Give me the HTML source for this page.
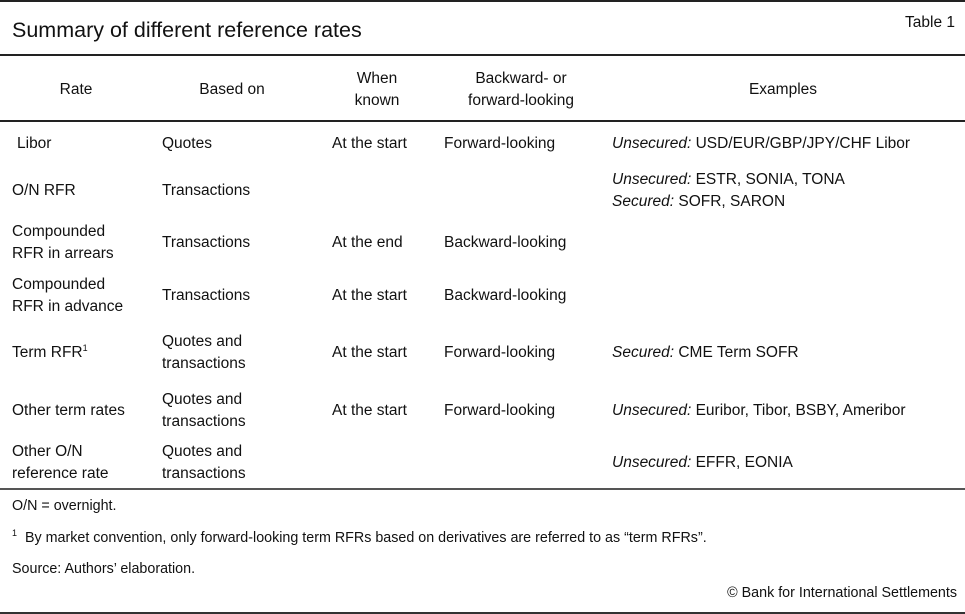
<!DOCTYPE html>
<html><head><style>
body{margin:0;width:965px;height:614px;background:#fff;position:relative;overflow:hidden;font-family:"Liberation Sans",sans-serif;color:#111}
.l{position:absolute;left:0;width:965px;background:#222}
.t{position:absolute;font-size:15.5px;line-height:22px;white-space:nowrap}
.c{text-align:center}
.f{position:absolute;font-size:14.3px;white-space:nowrap;left:12px}
i{font-style:italic}
sup{font-size:9px;line-height:0}
</style></head><body>
<div class="l" style="top:0;height:2px"></div>
<div class="t" style="left:12px;top:17px;font-size:21.5px;line-height:26px">Summary of different reference rates</div>
<div class="t" style="right:10px;top:12px;font-size:15.5px">Table 1</div>
<div class="l" style="top:54px;height:2px"></div>
<div class="t c" style="left:26px;width:100px;top:79px">Rate</div>
<div class="t c" style="left:182px;width:100px;top:79px">Based on</div>
<div class="t c" style="left:327px;width:100px;top:68px">When<br>known</div>
<div class="t c" style="left:441px;width:160px;top:68px">Backward- or<br>forward-looking</div>
<div class="t c" style="left:733px;width:100px;top:79px">Examples</div>
<div class="l" style="top:120px;height:2px"></div>

<div class="t" style="left:17px;top:133px">Libor</div>
<div class="t" style="left:162px;top:133px">Quotes</div>
<div class="t" style="left:332px;top:133px">At the start</div>
<div class="t" style="left:444px;top:133px">Forward-looking</div>
<div class="t" style="left:612px;top:133px"><i>Unsecured:</i> USD/EUR/GBP/JPY/CHF Libor</div>

<div class="t" style="left:12px;top:180px">O/N RFR</div>
<div class="t" style="left:162px;top:180px">Transactions</div>
<div class="t" style="left:612px;top:169px"><i>Unsecured:</i> ESTR, SONIA, TONA<br><i>Secured:</i> SOFR, SARON</div>

<div class="t" style="left:12px;top:221px">Compounded<br>RFR in arrears</div>
<div class="t" style="left:162px;top:232px">Transactions</div>
<div class="t" style="left:332px;top:232px">At the end</div>
<div class="t" style="left:444px;top:232px">Backward-looking</div>

<div class="t" style="left:12px;top:274px">Compounded<br>RFR in advance</div>
<div class="t" style="left:162px;top:285px">Transactions</div>
<div class="t" style="left:332px;top:285px">At the start</div>
<div class="t" style="left:444px;top:285px">Backward-looking</div>

<div class="t" style="left:12px;top:342px">Term RFR<sup>1</sup></div>
<div class="t" style="left:162px;top:331px">Quotes and<br>transactions</div>
<div class="t" style="left:332px;top:342px">At the start</div>
<div class="t" style="left:444px;top:342px">Forward-looking</div>
<div class="t" style="left:612px;top:342px"><i>Secured:</i> CME Term SOFR</div>

<div class="t" style="left:12px;top:400px">Other term rates</div>
<div class="t" style="left:162px;top:389px">Quotes and<br>transactions</div>
<div class="t" style="left:332px;top:400px">At the start</div>
<div class="t" style="left:444px;top:400px">Forward-looking</div>
<div class="t" style="left:612px;top:400px"><i>Unsecured:</i> Euribor, Tibor, BSBY, Ameribor</div>

<div class="t" style="left:12px;top:441px">Other O/N<br>reference rate</div>
<div class="t" style="left:162px;top:441px">Quotes and<br>transactions</div>
<div class="t" style="left:612px;top:452px"><i>Unsecured:</i> EFFR, EONIA</div>

<div class="l" style="top:488px;height:2px;background:#555"></div>
<div class="f" style="top:498px">O/N = overnight.</div>
<div class="f" style="top:530px"><sup>1</sup>&nbsp; By market convention, only forward-looking term RFRs based on derivatives are referred to as “term RFRs”.</div>
<div class="f" style="top:561px">Source: Authors’ elaboration.</div>
<div class="f" style="top:585px;left:auto;right:8px">© Bank for International Settlements</div>
<div class="l" style="top:612px;height:2px;background:#333"></div>
</body></html>
